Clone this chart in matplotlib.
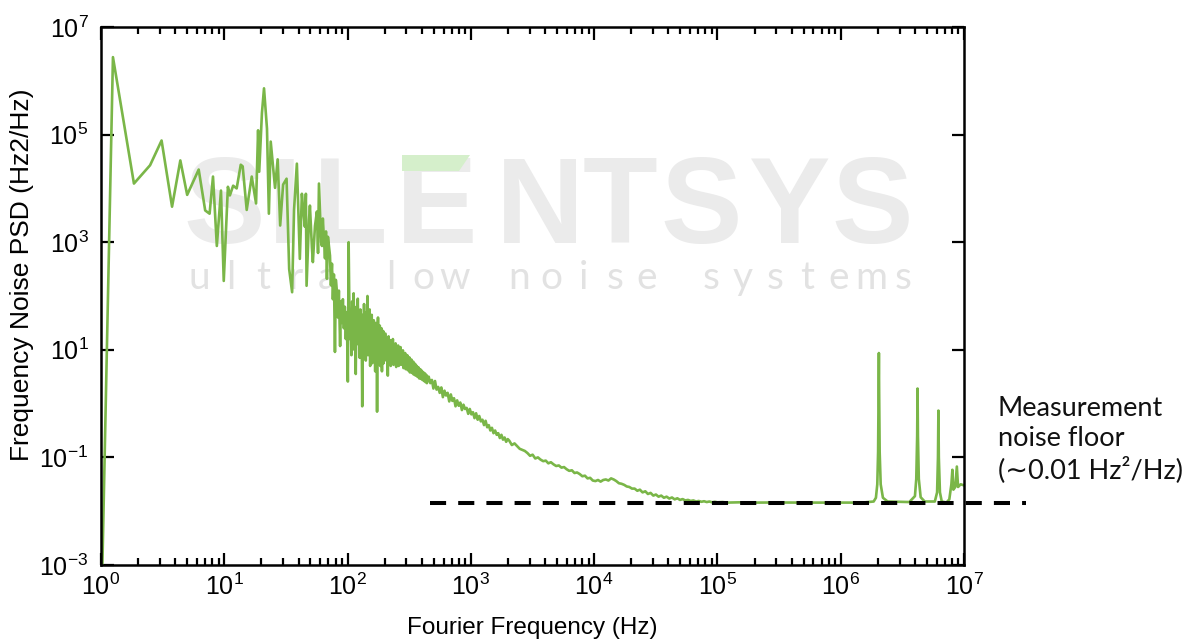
import numpy as np
import matplotlib
matplotlib.use("Agg")
import matplotlib.pyplot as plt
from matplotlib.ticker import (FixedLocator, LogLocator, LogFormatterMathtext,
                               NullFormatter, NullLocator)
from matplotlib.patches import Polygon

# ---------------- data: (frequency Hz, log10 PSD) ----------------
low_points = [
    (1.02, -3.3), (1.25, 6.44), (1.85, 4.09), (2.5, 4.43), (3.1, 4.89), (3.77, 3.66),
    (4.4, 4.52), (5.0, 3.88), (6.2, 4.35), (7.0, 3.59), (7.6, 3.53), (8.1, 4.22),
    (8.7, 2.93), (9.4, 3.96), (9.9, 2.28), (10.7, 4.03), (11.1, 3.87), (11.8, 4.05),
    (12.6, 4.0), (13.6, 4.44), (14.1, 4.41), (15.2, 3.6), (16.7, 4.22), (18.1, 3.72),
    (18.8, 5.08), (19.2, 4.31), (20.2, 5.4), (21.0, 5.86), (22.2, 5.11), (23.0, 3.53),
    (23.8, 4.87), (25.8, 4.01), (27.1, 4.54), (28.4, 3.31), (30.0, 4.07), (32.0, 4.18),
    (33.6, 2.5), (35.5, 2.07), (36.8, 3.6), (38.8, 4.46), (40.2, 3.3), (41.0, 2.69),
    (42.6, 3.9), (43.4, 3.68), (45.0, 3.29), (45.9, 3.9), (46.5, 2.19), (48.6, 3.4),
    (49.5, 3.68), (51.4, 2.9), (52.3, 2.63), (54.4, 3.3), (56.4, 3.57), (57.6, 2.8),
    (58.6, 4.09), (61.0, 3.0), (62.0, 2.93), (63.0, 3.44), (65.6, 2.7), (66.8, 3.2),
    (68.0, 2.32), (69.3, 3.1), (72.0, 2.75), (73.3, 2.2), (74.7, 2.6), (76.0, 1.94),
    (77.5, 2.4), (79.0, 0.96), (80.3, 2.3), (82.0, 2.07), (83.5, 1.6), (85.0, 2.1),
    (87.0, 1.07), (88.3, 1.9), (90.0, 1.5), (91.6, 1.94), (93.3, 1.4), (95.0, 1.8),
    (96.8, 1.2), (98.6, 1.7), (100.5, 0.41), (102.0, 3.0),
]

band_points = [
    (103, 2.1), (104.5, 1.2), (106, 1.7), (107.5, 0.9), (109, 1.9), (110.5, 1.5),
    (112, 2.05), (113.5, 1.0), (115, 1.45), (116.5, 0.55), (118, 1.8), (119.5, 1.3),
    (121, 1.95), (122.5, 1.1), (124, 1.6), (125.5, 0.85), (127, 1.75), (128.5, 1.2),
    (130, 1.5), (131.5, -0.05), (133, 1.65), (134.5, 1.05), (136, 1.85), (137.5, 1.35),
    (139, 1.6), (140.5, 0.8), (142, 1.7), (143.5, 1.1), (145, 2.0), (146.5, 0.9),
    (148, 1.4), (149.5, 1.0), (151, 1.75), (152.5, 0.7), (154, 1.5), (155.5, 1.2),
    (157, 1.65), (158.5, 0.75), (160, 1.3), (161.5, 0.95), (163, 1.55), (164.5, 1.1),
    (166, 1.45), (167.5, 0.6), (169, 1.5), (170.5, 1.0), (172, 1.25), (173.5, -0.15),
    (175, 1.2), (176.5, 1.6), (178, 0.8), (179.5, 1.35), (181, 0.95), (182.5, 1.45),
    (184, 0.7), (185.5, 1.3), (187, 1.05), (188.5, 1.4), (190, 0.6), (191.5, 1.25),
    (193, 0.9), (194.5, 1.35), (196, 0.75), (197.5, 1.2), (199, 0.85), (200.5, 1.3),
]

slope_points = [
    (203, 1.3), (206, 0.8), (209, 1.2), (212, 0.52), (215, 1.25), (218, 0.95),
    (221, 1.18), (224, 0.7), (227, 1.1), (230, 0.85), (233, 1.2), (236, 0.72),
    (239, 1.05), (242, 0.9), (245, 1.12), (248, 0.68), (251, 1.0), (254, 0.82),
    (257, 1.08), (260, 0.7), (263, 0.98), (266, 0.78), (269, 1.05), (272, 0.72),
    (275, 0.92), (278, 0.8), (281, 0.99), (284, 0.66), (287, 0.88), (290, 0.75),
    (293, 0.94), (296, 0.64), (299, 0.85), (302, 0.7), (305, 0.9), (308, 0.62),
    (311, 0.8), (314, 0.7), (317, 0.86), (320, 0.58), (323, 0.78), (326, 0.66),
    (329, 0.82), (332, 0.57), (335, 0.72), (338, 0.62), (341, 0.78), (344, 0.54),
    (347, 0.7), (350, 0.6), (353, 0.74), (356, 0.52), (359, 0.67), (362, 0.57),
    (365, 0.7), (368, 0.5), (371, 0.63), (374, 0.55), (377, 0.67), (380, 0.47),
    (383, 0.6), (386, 0.52), (389, 0.64), (392, 0.46), (395, 0.57), (398, 0.5),
    (401, 0.61), (404, 0.44), (407, 0.55), (410, 0.48), (413, 0.58), (416, 0.42),
    (419, 0.52), (422, 0.46), (425, 0.56), (428, 0.4), (431, 0.5), (434, 0.44),
    (437, 0.53), (440, 0.38), (443, 0.48), (446, 0.42), (449, 0.5),
]

decay_points = [
    (455, 0.50), (469, 0.38), (483, 0.44), (497, 0.28), (512, 0.42), (527, 0.26),
    (543, 0.31), (559, 0.2), (576, 0.3), (593, 0.12), (611, 0.24), (629, 0.15),
    (648, 0.2), (668, 0.04), (688, 0.17), (708, 0.05), (730, 0.1), (751, -0.05),
    (774, 0.06), (797, -0.04), (821, 0.02), (846, -0.12), (871, -0.02), (897, -0.1),
    (924, -0.08), (952, -0.19), (980, -0.1), (1010, -0.2), (1040, -0.16), (1071, -0.27),
    (1103, -0.18), (1136, -0.3), (1170, -0.23), (1205, -0.33), (1242, -0.3), (1279, -0.4),
    (1317, -0.32), (1357, -0.44), (1397, -0.4), (1439, -0.5), (1482, -0.45), (1527, -0.55),
    (1573, -0.5), (1620, -0.58), (1668, -0.55), (1718, -0.64), (1770, -0.58), (1823, -0.67),
    (1878, -0.63), (1934, -0.71), (1992, -0.66),
]

tail_points = [
    (2050, -0.69), (2150, -0.77), (2260, -0.74), (2370, -0.79), (2490, -0.84), (2610, -0.86),
    (2740, -0.88), (2880, -0.92), (3020, -0.97), (3170, -0.95), (3330, -1.02), (3500, -1.0),
    (3670, -1.04), (3860, -1.07), (4050, -1.06), (4250, -1.11), (4460, -1.09), (4690, -1.13),
    (4920, -1.16), (5170, -1.15), (5430, -1.19), (5700, -1.18), (5980, -1.22), (6280, -1.25),
    (6600, -1.24), (6930, -1.29), (7270, -1.28), (7640, -1.31), (8020, -1.35), (8420, -1.34),
    (8840, -1.39), (9280, -1.38), (9750, -1.43), (10240, -1.44), (10750, -1.42), (11290, -1.45),
    (11850, -1.42), (12440, -1.41), (13060, -1.43), (13720, -1.39), (14400, -1.41), (15120, -1.44),
    (15880, -1.48), (16670, -1.49), (17510, -1.51), (18380, -1.54), (19300, -1.55), (20270, -1.58),
    (21300, -1.58), (22400, -1.62), (23500, -1.6), (24700, -1.65), (26000, -1.63), (27300, -1.68),
    (28700, -1.66), (30200, -1.71), (31700, -1.69), (33300, -1.73), (35000, -1.71), (36800, -1.75),
    (38700, -1.73), (40700, -1.765), (42800, -1.745), (45000, -1.78), (47300, -1.76),
    (49700, -1.79), (52200, -1.775), (54900, -1.80), (57700, -1.79), (60700, -1.81),
    (63800, -1.80), (67000, -1.82), (70500, -1.81), (74100, -1.825), (77900, -1.815),
    (81900, -1.83), (86000, -1.82), (90500, -1.835), (95100, -1.825), (100000, -1.835),
    (110000, -1.83), (120000, -1.84), (150000, -1.835), (200000, -1.84), (300000, -1.838),
    (500000, -1.84), (1000000, -1.84), (1500000, -1.84),
]

peak_points = [
    (1.85e6, -1.82), (1.93e6, -1.75), (1.98e6, -1.5), (2.01e6, -0.9), (2.03e6, 0.2),
    (2.04e6, 0.94), (2.05e6, 0.2), (2.07e6, -0.9), (2.11e6, -1.5), (2.2e6, -1.75),
    (2.4e6, -1.82), (3.6e6, -1.83), (4.0e6, -1.72), (4.1e6, -1.4), (4.17e6, -0.6),
    (4.2e6, 0.28), (4.23e6, -0.6), (4.3e6, -1.4), (4.45e6, -1.74), (4.8e6, -1.82),
    (5.8e6, -1.82), (6.05e6, -1.65), (6.15e6, -1.0), (6.2e6, -0.13), (6.25e6, -1.0),
    (6.38e6, -1.65), (6.6e6, -1.82), (7.2e6, -1.84), (7.6e6, -1.78), (7.9e6, -1.5),
    (8.05e6, -1.23), (8.2e6, -1.6), (8.5e6, -1.55), (8.75e6, -1.17), (8.95e6, -1.55),
    (9.4e6, -1.5), (1.0e7, -1.52),
]

floor_level = 0.0145          # measurement noise floor (Hz^2/Hz)
floor_start_hz = 466
floor_end_hz = 3.2e7

x_ticks = [1e0, 1e1, 1e2, 1e3, 1e4, 1e5, 1e6, 1e7]
y_ticks = [1e-3, 1e-1, 1e1, 1e3, 1e5, 1e7]

x_label = "Fourier Frequency (Hz)"
y_label = "Frequency Noise PSD (Hz2/Hz)"
note = "Measurement\nnoise floor\n(\u223c0.01 Hz\u00b2/Hz)"
logo_word = "SILENTSYS"
logo_sub = "ultra low noise systems"

# ---------------- style ----------------
plt.rcParams['font.family'] = ['Liberation Sans', 'DejaVu Sans']
plt.rcParams['mathtext.fontset'] = 'custom'
plt.rcParams['mathtext.rm'] = 'Liberation Sans Narrow'
plt.rcParams['mathtext.it'] = 'Liberation Sans Narrow'
plt.rcParams['mathtext.default'] = 'regular'

W, H = 1193, 640
fig = plt.figure(figsize=(W / 100, H / 100), dpi=100)
ax = fig.add_axes([101 / W, 75 / H, 863 / W, 538 / H])

GREEN = '#7ab648'

# watermark logo (behind data), letters placed as in the logo
logo_x = [224, 285, 350, 437, 540, 620, 701, 790, 872]
for ch, xc in zip(logo_word, logo_x):
    ax.text(xc / W, 1 - 243 / H, ch, transform=fig.transFigure, ha='center',
            va='baseline', fontsize=88, fontweight='bold', color='#ebebeb',
            family=['Liberation Sans Narrow', 'Liberation Sans', 'DejaVu Sans'],
            zorder=0.5)
ax.add_patch(Polygon([(402 / W, 1 - 155 / H), (470 / W, 1 - 155 / H),
                      (459 / W, 1 - 171 / H), (402 / W, 1 - 171 / H)],
                     closed=True, transform=fig.transFigure, facecolor='#d5efcb',
                     edgecolor='none', zorder=0.6))
for i, ch in enumerate(logo_sub):
    if ch == ' ':
        continue
    ax.text((199 + 32 * i) / W, 1 - 289 / H, ch, transform=fig.transFigure,
            ha='center', va='baseline', fontsize=28, color='#e2e2e2',
            family=['Lato', 'DejaVu Sans'], zorder=0.5)

points = low_points + band_points + slope_points + decay_points + tail_points + peak_points
freq_hz = np.array([p[0] for p in points])
psd = np.power(10.0, np.array([p[1] for p in points]))
ax.plot(freq_hz, psd, color=GREEN, lw=1.9, zorder=2, solid_joinstyle='round')

ax.plot([floor_start_hz, floor_end_hz], [floor_level, floor_level], color='black',
        lw=2.9, linestyle=(0, (4, 3)), dash_capstyle='butt', clip_on=False, zorder=3)

ax.set_xscale('log')
ax.set_yscale('log')
ax.set_xlim(1, 1e7)
ax.set_ylim(1e-3, 1e7)

ax.xaxis.set_major_locator(FixedLocator(x_ticks))
ax.xaxis.set_minor_locator(LogLocator(base=10, subs=np.arange(2, 10), numticks=30))
ax.xaxis.set_minor_formatter(NullFormatter())
ax.xaxis.set_major_formatter(LogFormatterMathtext())
ax.yaxis.set_major_locator(FixedLocator(y_ticks))
ax.yaxis.set_minor_locator(NullLocator())
ax.yaxis.set_major_formatter(LogFormatterMathtext())

ax.tick_params(which='both', direction='in', top=True, right=True, width=1.6,
               color='black')
ax.tick_params(which='major', length=9, labelsize=18, pad=6)
ax.tick_params(axis='y', which='major', pad=9)
ax.tick_params(which='minor', length=5)
for s in ax.spines.values():
    s.set_linewidth(1.8)

fig.text(532 / W, 1 - 628 / H, x_label, ha='center', va='center', fontsize=17.5)
fig.text(22 / W, 1 - 275 / H, y_label, ha='center', va='center', rotation=90,
         fontsize=19)

fig.text(998 / W, 1 - 396 / H, note, ha='left', va='top', fontsize=19.5,
         family=['Lato', 'DejaVu Sans'], linespacing=1.25, color='#111111')

fig.savefig('out.png', dpi=100, facecolor='white')
